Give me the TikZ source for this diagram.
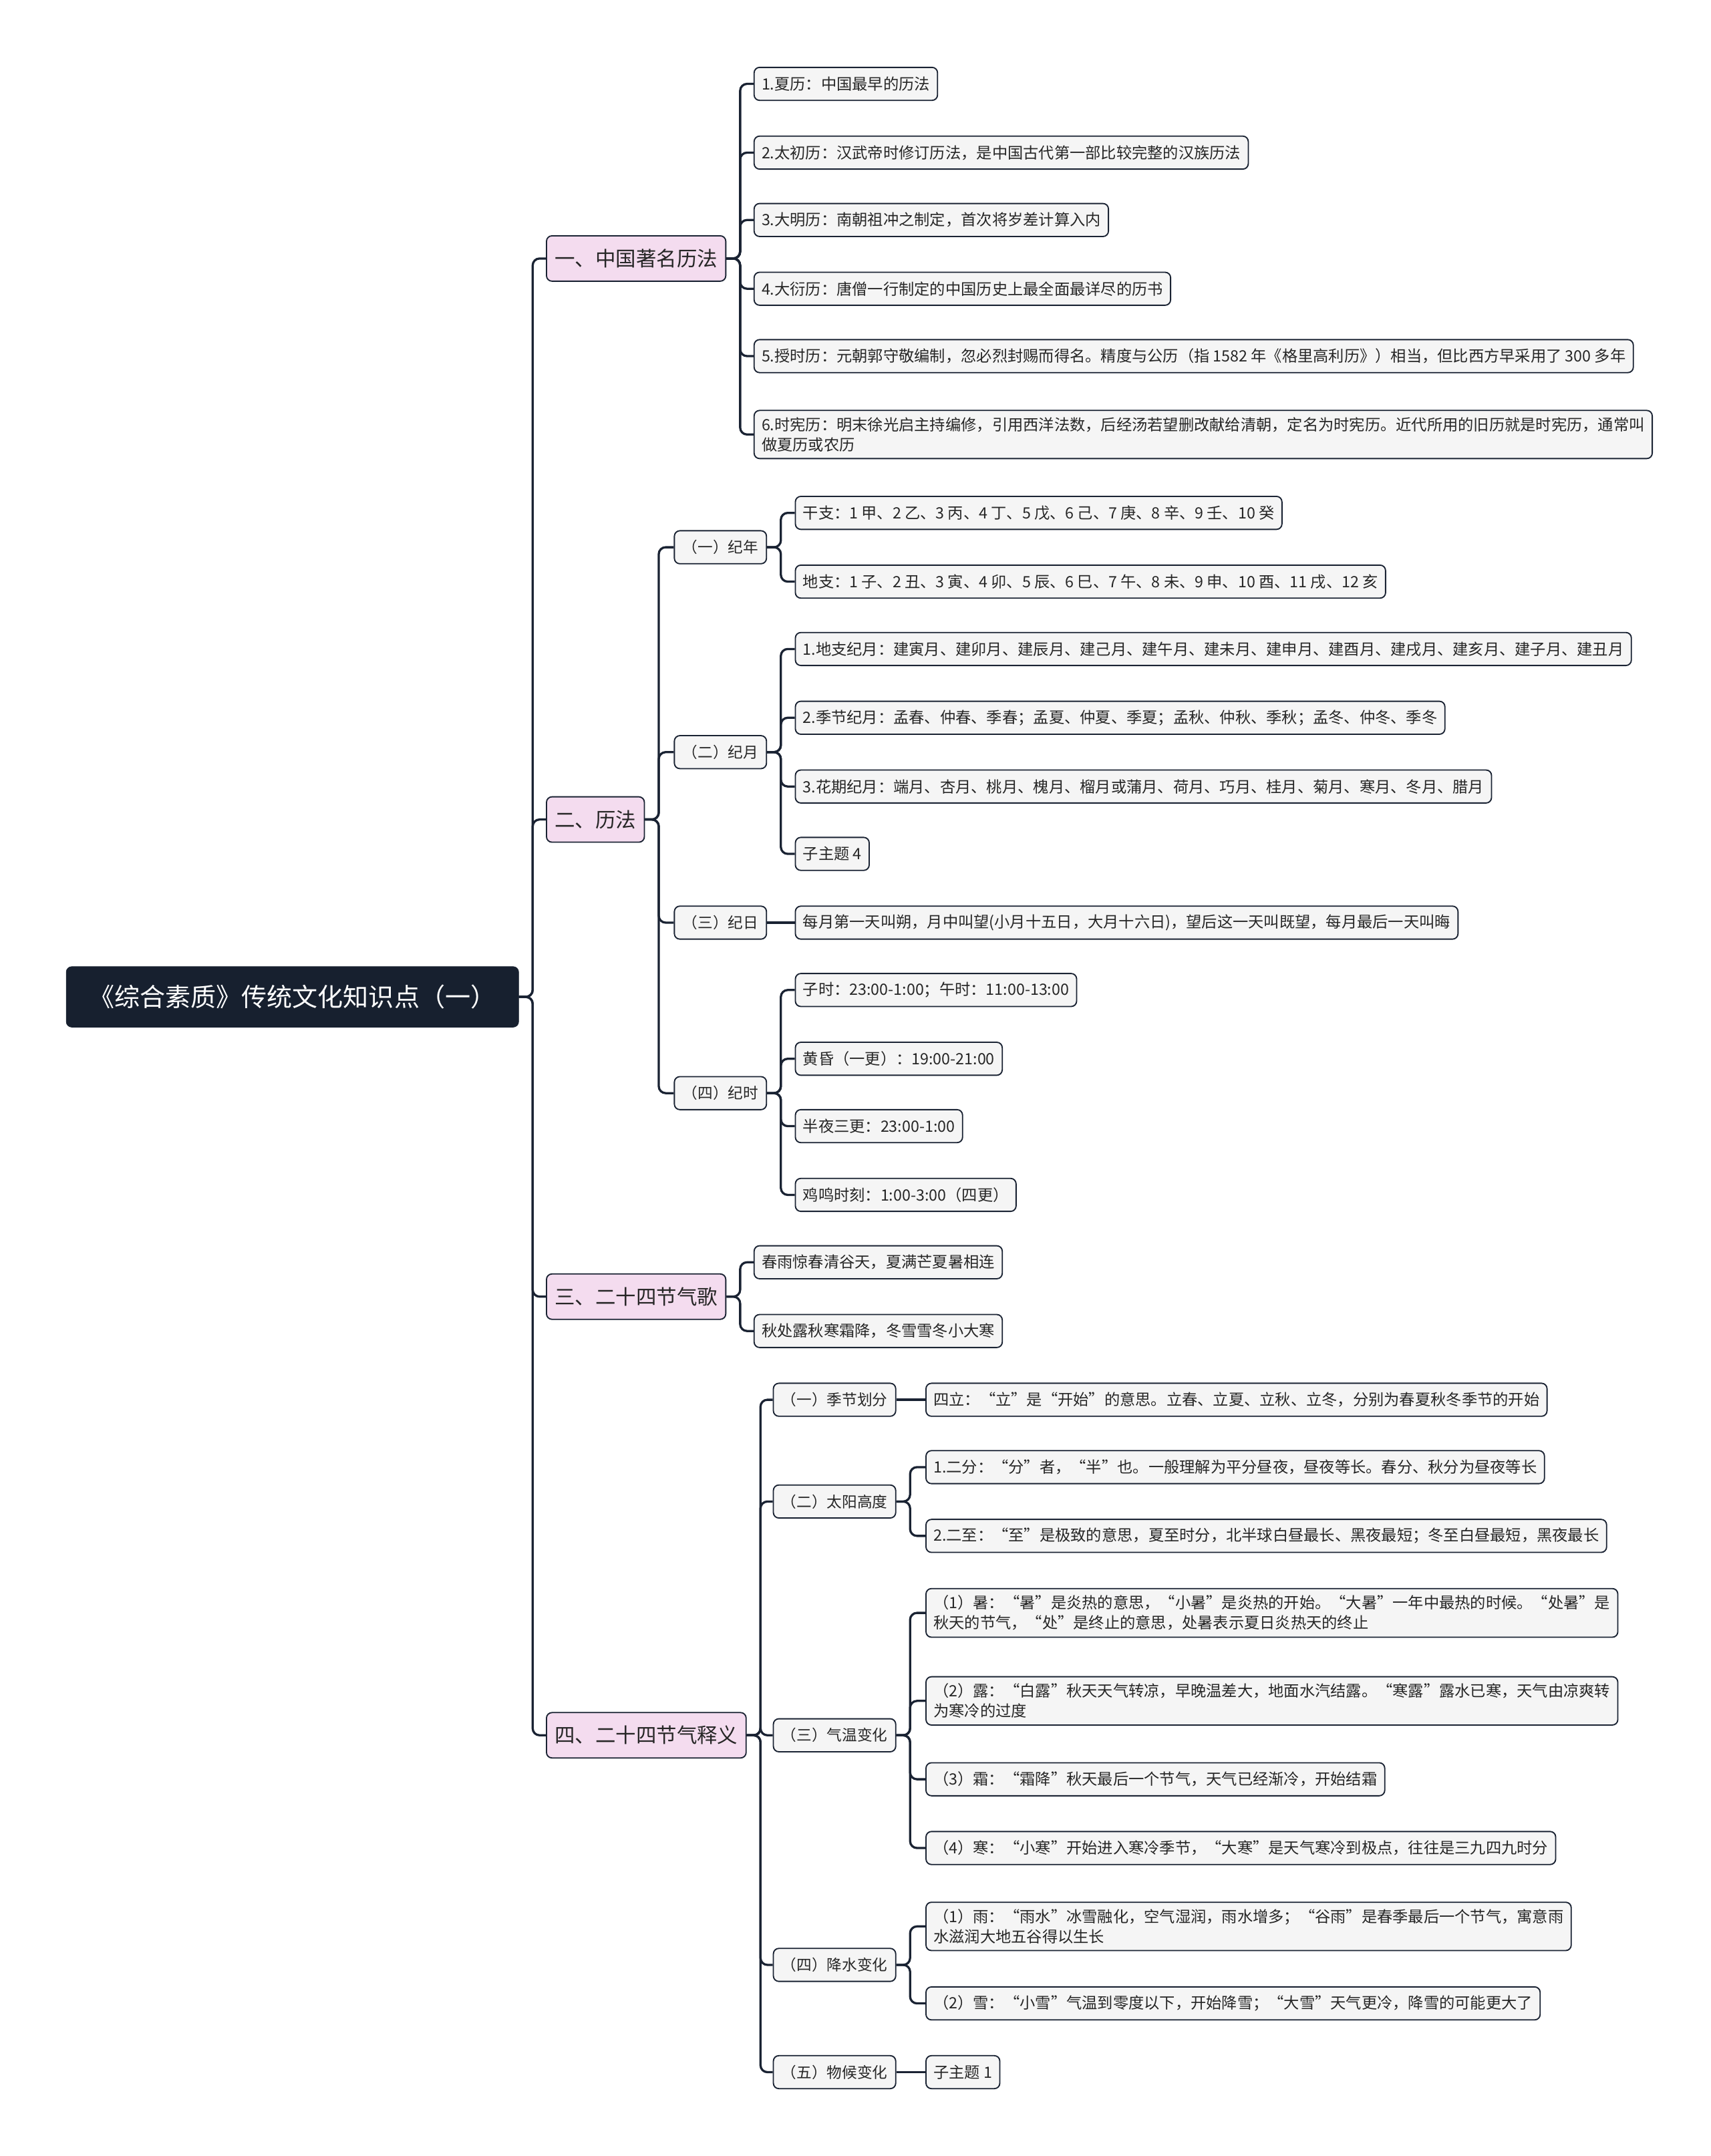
\documentclass[tikz,border=0pt]{standalone}
\usepackage{fontspec}
\setmainfont{Noto Sans CJK SC}
\definecolor{ink}{HTML}{1A2333}
\definecolor{rootbg}{HTML}{17202F}
\definecolor{pinkbg}{HTML}{F4DCEF}
\definecolor{leafbg}{HTML}{F5F5F5}
\tikzset{
    root/.style =   {rectangle,
                    rounded corners=4pt,
                    fill=rootbg,
                    draw=rootbg,
                    text=white,
                    font=\fontsize{18.5}{22}\selectfont,
                    minimum width=329pt,
                    minimum height=44pt,
                    anchor=west},
    topic/.style =  {rectangle,
                    rounded corners=4pt,
                    fill=pinkbg,
                    draw=ink,
                    line width=0.9pt,
                    text=black!85,
                    font=\fontsize{14.8}{18}\selectfont,
                    inner xsep=6pt,
                    minimum height=33pt,
                    anchor=west},
    sub/.style =    {rectangle,
                    rounded corners=4pt,
                    fill=leafbg,
                    draw=ink,
                    line width=0.9pt,
                    text=black!85,
                    font=\fontsize{11}{14}\selectfont,
                    inner xsep=6pt,
                    inner ysep=5pt,
                    minimum height=24pt,
                    anchor=west},
    leaf/.style =   {sub,
                    font=\fontsize{11.3}{14.5}\selectfont,
                    inner xsep=5.5pt,
                    align=left},
    -,
    link/.style =   {draw=ink,
                    line width=1.6pt,
                    rounded corners=5pt,
                    to path={(\tikztostart.east) -- ++(10pt,0) |- (\tikztotarget.west)}},
    straight/.style = {draw=ink,
                    line width=1.6pt,
                    to path={(\tikztostart.east) -- (\tikztotarget.west)}}}

\begin{document}
\begin{tikzpicture}[x=1pt,y=-1pt]
                \useasboundingbox (0,0) rectangle (1244,1568);
                \fill[white] (0,0) rectangle (1244,1568);

                \node[root]     (R) at (48,725)     {《综合素质》传统文化知识点（一）};

                \node[topic]    (A) at (397,188)    {一、中国著名历法};
                \node[topic]    (B) at (397,596)    {二、历法};
                \node[topic]    (C) at (397,943)    {三、二十四节气歌};
                \node[topic]    (D) at (397,1262)   {四、二十四节气释义};

                % 一、中国著名历法
                \node[leaf]     (A1) at (548,61)    {1.夏历：中国最早的历法};
                \node[leaf]     (A2) at (548,111)   {2.太初历：汉武帝时修订历法，是中国古代第一部比较完整的汉族历法};
                \node[leaf]     (A3) at (548,160)   {3.大明历：南朝祖冲之制定，首次将岁差计算入内};
                \node[leaf]     (A4) at (548,210)   {4.大衍历：唐僧一行制定的中国历史上最全面最详尽的历书};
                \node[leaf]     (A5) at (548,259)   {5.授时历：元朝郭守敬编制，忽必烈封赐而得名。精度与公历（指 1582 年《格里高利历》）相当，但比西方早采用了 300 多年};
                \node[leaf]     (A6) at (548,316)   {6.时宪历：明末徐光启主持编修，引用西洋法数，后经汤若望删改献给清朝，定名为时宪历。近代所用的旧历就是时宪历，通常叫\\做夏历或农历};

                % 二、历法
                \node[sub]      (B1) at (490,398)   {（一）纪年};
                \node[sub]      (B2) at (490,547)   {（二）纪月};
                \node[sub]      (B3) at (490,671)   {（三）纪日};
                \node[sub]      (B4) at (490,795)   {（四）纪时};

                \node[leaf]     (B1a) at (578,373)  {干支：1 甲、2 乙、3 丙、4 丁、5 戊、6 己、7 庚、8 辛、9 壬、10 癸};
                \node[leaf]     (B1b) at (578,423)  {地支：1 子、2 丑、3 寅、4 卯、5 辰、6 巳、7 午、8 未、9 申、10 酉、11 戌、12 亥};
                \node[leaf]     (B2a) at (578,472)  {1.地支纪月：建寅月、建卯月、建辰月、建己月、建午月、建未月、建申月、建酉月、建戌月、建亥月、建子月、建丑月};
                \node[leaf]     (B2b) at (578,522)  {2.季节纪月：孟春、仲春、季春；孟夏、仲夏、季夏；孟秋、仲秋、季秋；孟冬、仲冬、季冬};
                \node[leaf]     (B2c) at (578,572)  {3.花期纪月：端月、杏月、桃月、槐月、榴月或蒲月、荷月、巧月、桂月、菊月、寒月、冬月、腊月};
                \node[leaf]     (B2d) at (578,621)  {子主题 4};
                \node[leaf]     (B3a) at (578,671)  {每月第一天叫朔，月中叫望(小月十五日，大月十六日)，望后这一天叫既望，每月最后一天叫晦};
                \node[leaf]     (B4a) at (578,720)  {子时：23:00-1:00；午时：11:00-13:00};
                \node[leaf]     (B4b) at (578,770)  {黄昏（一更）：19:00-21:00};
                \node[leaf]     (B4c) at (578,819)  {半夜三更：23:00-1:00};
                \node[leaf]     (B4d) at (578,869)  {鸡鸣时刻：1:00-3:00（四更）};

                % 三、二十四节气歌
                \node[leaf]     (C1) at (548,918)   {春雨惊春清谷天，夏满芒夏暑相连};
                \node[leaf]     (C2) at (548,968)   {秋处露秋寒霜降，冬雪雪冬小大寒};

                % 四、二十四节气释义
                \node[sub]      (D1) at (562,1018)  {（一）季节划分};
                \node[sub]      (D2) at (562,1092)  {（二）太阳高度};
                \node[sub]      (D3) at (562,1262)  {（三）气温变化};
                \node[sub]      (D4) at (562,1429)  {（四）降水变化};
                \node[sub]      (D5) at (562,1507)  {（五）物候变化};

                \node[leaf]     (D1a) at (673,1018) {四立：“立”是“开始”的意思。立春、立夏、立秋、立冬，分别为春夏秋冬季节的开始};
                \node[leaf]     (D2a) at (673,1067) {1.二分：“分”者，“半”也。一般理解为平分昼夜，昼夜等长。春分、秋分为昼夜等长};
                \node[leaf]     (D2b) at (673,1117) {2.二至：“至”是极致的意思，夏至时分，北半球白昼最长、黑夜最短；冬至白昼最短，黑夜最长};
                \node[leaf]     (D3a) at (673,1173) {（1）暑：“暑”是炎热的意思，“小暑”是炎热的开始。“大暑”一年中最热的时候。“处暑”是\\秋天的节气，“处”是终止的意思，处暑表示夏日炎热天的终止};
                \node[leaf]     (D3b) at (673,1237) {（2）露：“白露”秋天天气转凉，早晚温差大，地面水汽结露。“寒露”露水已寒，天气由凉爽转\\为寒冷的过度};
                \node[leaf]     (D3c) at (673,1294) {（3）霜：“霜降”秋天最后一个节气，天气已经渐冷，开始结霜};
                \node[leaf]     (D3d) at (673,1344) {（4）寒：“小寒”开始进入寒冷季节，“大寒”是天气寒冷到极点，往往是三九四九时分};
                \node[leaf]     (D4a) at (673,1401) {（1）雨：“雨水”冰雪融化，空气湿润，雨水增多；“谷雨”是春季最后一个节气，寓意雨\\水滋润大地五谷得以生长};
                \node[leaf]     (D4b) at (673,1457) {（2）雪：“小雪”气温到零度以下，开始降雪；“大雪”天气更冷，降雪的可能更大了};
                \node[leaf]     (D5a) at (673,1507) {子主题 1};

                \path   (R) edge [link] (A)
                        (R) edge [link] (B)
                        (R) edge [link] (C)
                        (R) edge [link] (D);
                \foreach \k in {1,...,6}
                        \path (A) edge [link] (A\k);
                \foreach \k in {1,...,4}
                        \path (B) edge [link] (B\k);
                \path   (B1) edge [link] (B1a)
                        (B1) edge [link] (B1b)
                        (B2) edge [link] (B2a)
                        (B2) edge [link] (B2b)
                        (B2) edge [link] (B2c)
                        (B2) edge [link] (B2d)
                        (B3) edge [straight] (B3a)
                        (B4) edge [link] (B4a)
                        (B4) edge [link] (B4b)
                        (B4) edge [link] (B4c)
                        (B4) edge [link] (B4d);
                \path   (C) edge [link] (C1)
                        (C) edge [link] (C2);
                \foreach \k in {1,...,5}
                        \path (D) edge [link] (D\k);
                \path   (D1) edge [straight] (D1a)
                        (D2) edge [link] (D2a)
                        (D2) edge [link] (D2b)
                        (D3) edge [link] (D3a)
                        (D3) edge [link] (D3b)
                        (D3) edge [link] (D3c)
                        (D3) edge [link] (D3d)
                        (D4) edge [link] (D4a)
                        (D4) edge [link] (D4b)
                        (D5) edge [straight] (D5a);
\end{tikzpicture}
\end{document}
